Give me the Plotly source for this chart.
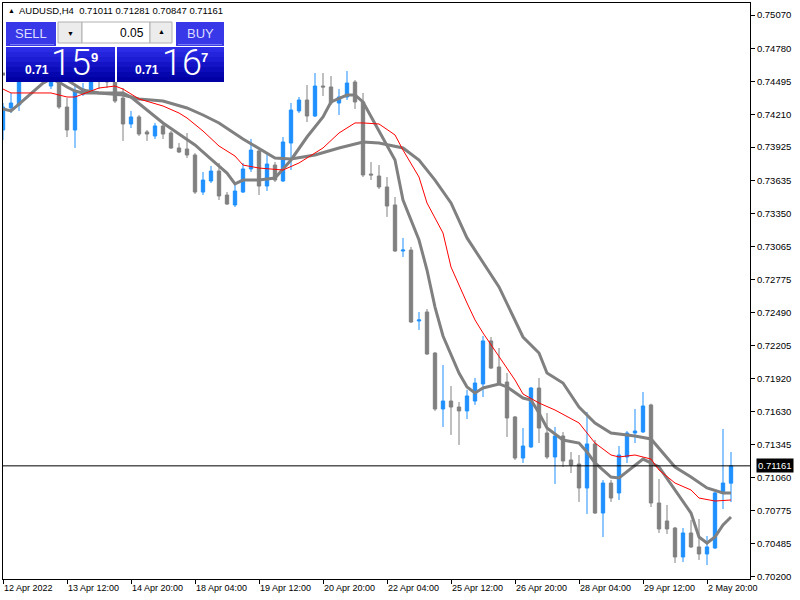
import plotly.graph_objects as go

# ---------------- data ----------------
tick_labels = ["12 Apr 2022", "13 Apr 12:00", "14 Apr 20:00", "18 Apr 04:00", "19 Apr 12:00",
               "20 Apr 20:00", "22 Apr 04:00", "25 Apr 12:00", "26 Apr 20:00", "28 Apr 04:00",
               "29 Apr 12:00", "2 May 20:00"]
tick_bars = [0, 8, 16, 24, 32, 40, 48, 56, 64, 72, 80, 88]

opens = [0.74073, 0.74264, 0.74290, 0.74524, 0.74576, 0.74558, 0.74454, 0.74532, 0.74272, 0.74073,
         0.74385, 0.74411, 0.74524, 0.74506, 0.74506, 0.74350, 0.74125, 0.74186, 0.74056, 0.74021,
         0.74108, 0.74047, 0.73917, 0.73908, 0.73856, 0.73535, 0.73631, 0.73717, 0.73509, 0.73423,
         0.73535, 0.73735, 0.73891, 0.73587, 0.73769, 0.73631, 0.73960, 0.74238, 0.74333, 0.74194,
         0.74454, 0.74446, 0.74307, 0.74359, 0.74489, 0.74316, 0.73691, 0.73674, 0.73579, 0.73423,
         0.73024, 0.73032, 0.72417, 0.72495, 0.72139, 0.71654, 0.71723, 0.71671, 0.71637, 0.71723,
         0.71871, 0.72244, 0.72018, 0.71888, 0.71585, 0.71229, 0.71325, 0.71836, 0.71446, 0.71238,
         0.71420, 0.71212, 0.71177, 0.70969, 0.71351, 0.70752, 0.71012, 0.70926, 0.71238, 0.71446,
         0.71455, 0.71689, 0.70839, 0.70683, 0.70622, 0.70371, 0.70579, 0.70458, 0.70397, 0.70449,
         0.70926, 0.71011]
highs = [0.74307, 0.74394, 0.74541, 0.74628, 0.74645, 0.74645, 0.74593, 0.74593, 0.74350, 0.74472,
         0.74480, 0.74558, 0.74576, 0.74558, 0.74541, 0.74437, 0.74238, 0.74203, 0.74073, 0.74134,
         0.74134, 0.74064, 0.73960, 0.74047, 0.73873, 0.73709, 0.73761, 0.73787, 0.73535, 0.73613,
         0.73787, 0.73995, 0.73899, 0.73873, 0.73795, 0.74012, 0.74307, 0.74359, 0.74463, 0.74567,
         0.74567, 0.74541, 0.74428, 0.74584, 0.74506, 0.74394, 0.73795, 0.73769, 0.73665, 0.73492,
         0.73137, 0.73059, 0.72495, 0.72521, 0.72148, 0.72035, 0.71853, 0.71715, 0.71819, 0.71923,
         0.72287, 0.72278, 0.72183, 0.71966, 0.71593, 0.71489, 0.71845, 0.71923, 0.71619, 0.71498,
         0.71455, 0.71281, 0.71255, 0.71628, 0.71385, 0.71038, 0.71038, 0.71333, 0.71463, 0.71654,
         0.71801, 0.71700, 0.71047, 0.70822, 0.70631, 0.70622, 0.70692, 0.70700, 0.70553, 0.70934,
         0.71481, 0.71281]
lows = [0.73986, 0.74220, 0.74238, 0.74515, 0.74515, 0.74510, 0.74428, 0.74255, 0.74012, 0.73917,
        0.74368, 0.74394, 0.74428, 0.74437, 0.74307, 0.73978, 0.74090, 0.74021, 0.73978, 0.73995,
        0.73995, 0.73908, 0.73873, 0.73830, 0.73518, 0.73509, 0.73613, 0.73466, 0.73423, 0.73405,
        0.73527, 0.73709, 0.73509, 0.73544, 0.73622, 0.73622, 0.73726, 0.74220, 0.74142, 0.74186,
        0.74368, 0.74290, 0.74203, 0.74333, 0.74255, 0.73665, 0.73639, 0.73561, 0.73319, 0.73015,
        0.72972, 0.72400, 0.72339, 0.72122, 0.71637, 0.71498, 0.71429, 0.71342, 0.71567, 0.71689,
        0.71758, 0.72001, 0.71862, 0.71411, 0.71212, 0.71186, 0.71316, 0.71359, 0.71220, 0.71004,
        0.71151, 0.71099, 0.70848, 0.70744, 0.70744, 0.70544, 0.70848, 0.70865, 0.71186, 0.71359,
        0.71446, 0.70804, 0.70579, 0.70570, 0.70319, 0.70327, 0.70449, 0.70345, 0.70301, 0.70440,
        0.70787, 0.70847]
closes = [0.74272, 0.74307, 0.74506, 0.74576, 0.74541, 0.74515, 0.74532, 0.74272, 0.74073, 0.74411,
          0.74428, 0.74524, 0.74506, 0.74489, 0.74324, 0.74125, 0.74186, 0.74038, 0.74038, 0.74108,
          0.74038, 0.73917, 0.73882, 0.73856, 0.73535, 0.73639, 0.73717, 0.73501, 0.73431, 0.73544,
          0.73735, 0.73899, 0.73587, 0.73778, 0.73639, 0.73969, 0.74246, 0.74333, 0.74194, 0.74454,
          0.74446, 0.74307, 0.74359, 0.74480, 0.74316, 0.73683, 0.73683, 0.73579, 0.73414, 0.73024,
          0.73032, 0.72408, 0.72426, 0.72131, 0.71654, 0.71723, 0.71671, 0.71637, 0.71767, 0.71879,
          0.72244, 0.72009, 0.71871, 0.71576, 0.71229, 0.71333, 0.71836, 0.71489, 0.71238, 0.71420,
          0.71203, 0.71168, 0.70969, 0.71351, 0.70752, 0.71012, 0.70882, 0.71255, 0.71446, 0.71463,
          0.71680, 0.70839, 0.70614, 0.70614, 0.70371, 0.70579, 0.70458, 0.70397, 0.70458, 0.70926,
          0.71012, 0.71161]

ma_fast_bars = [0, 1, 2, 3, 4, 5, 6, 7, 8, 9, 10, 11, 13, 15, 16, 18, 20, 22, 24, 26, 28, 29, 30,
                32, 34, 36, 38, 40, 41, 43, 44, 45, 47, 49, 50, 52, 53, 54, 55, 57, 58, 59, 60, 62,
                63, 65, 66, 67, 68, 70, 72, 73, 74, 76, 77, 79, 80, 82, 84, 86, 87, 88, 89, 90, 91]
ma_fast = [0.74255, 0.74238, 0.74298, 0.74359, 0.74420, 0.74480, 0.74515, 0.74489, 0.74446, 0.74411,
           0.74394, 0.74394, 0.74394, 0.74394, 0.74359, 0.74246, 0.74134, 0.74038, 0.73943, 0.73821,
           0.73700, 0.73605, 0.73639, 0.73639, 0.73657, 0.73813, 0.74012, 0.74186, 0.74316, 0.74376,
           0.74376, 0.74316, 0.74064, 0.73813, 0.73466, 0.73119, 0.72859, 0.72538, 0.72287, 0.71966,
           0.71845, 0.71793, 0.71836, 0.71871, 0.71845, 0.71749, 0.71732, 0.71619, 0.71489, 0.71385,
           0.71359, 0.71281, 0.71186, 0.71064, 0.71056, 0.71168, 0.71220, 0.71151, 0.70952, 0.70752,
           0.70544, 0.70492, 0.70544, 0.70648, 0.70718]

ma_slow_bars = [0, 5, 8, 10, 12, 15, 17, 20, 23, 25, 27, 30, 34, 36, 39, 42, 45, 47, 50, 52, 54, 56,
                58, 59, 62, 65, 67, 68, 70, 72, 74, 76, 79, 81, 82, 84, 86, 88, 90, 91]
ma_slow = [0.74558, 0.74541, 0.74506, 0.74420, 0.74394, 0.74376, 0.74342, 0.74324, 0.74264, 0.74203,
           0.74134, 0.73995, 0.73830, 0.73821, 0.73856, 0.73917, 0.73969, 0.73960, 0.73917, 0.73813,
           0.73639, 0.73440, 0.73137, 0.73032, 0.72712, 0.72278, 0.72139, 0.71966, 0.71879, 0.71671,
           0.71533, 0.71446, 0.71420, 0.71394, 0.71316, 0.71151, 0.71064, 0.70969, 0.70926, 0.70926]

ma_red_bars = [0, 1, 4, 6, 8, 9, 10, 12, 14, 15, 17, 20, 22, 23, 25, 27, 29, 30, 32, 35, 37, 40, 42,
               44, 45, 47, 49, 50, 52, 53, 55, 56, 58, 59, 60, 62, 64, 65, 67, 69, 72, 73, 74, 76,
               77, 79, 81, 82, 84, 86, 87, 89, 91]
ma_red = [0.74428, 0.74394, 0.74394, 0.74394, 0.74359, 0.74359, 0.74385, 0.74437, 0.74454, 0.74428,
          0.74342, 0.74281, 0.74220, 0.74177, 0.74064, 0.73934, 0.73847, 0.73769, 0.73743, 0.73726,
          0.73787, 0.73917, 0.74047, 0.74134, 0.74134, 0.74125, 0.74030, 0.73899, 0.73665, 0.73440,
          0.73180, 0.72885, 0.72573, 0.72426, 0.72313, 0.72105, 0.71905, 0.71784, 0.71706, 0.71645,
          0.71533, 0.71446, 0.71359, 0.71255, 0.71238, 0.71255, 0.71220, 0.71125, 0.71012, 0.70952,
          0.70882, 0.70856, 0.70865]

y_ticks = [0.75070, 0.74780, 0.74495, 0.74210, 0.73925, 0.73635, 0.73350, 0.73065, 0.72775,
           0.72490, 0.72205, 0.71920, 0.71630, 0.71345, 0.71060, 0.70775, 0.70485, 0.70200]

symbol = "AUDUSD,H4"
last_price = closes[-1]
lot = "0.05"

bars = list(range(len(opens)))

# ---------------- figure ----------------
fig = go.Figure()
fig.add_trace(go.Candlestick(
    x=bars, open=opens, high=highs, low=lows, close=closes,
    increasing=dict(line=dict(color="#1E90FF", width=1), fillcolor="#1E90FF"),
    decreasing=dict(line=dict(color="#808080", width=1), fillcolor="#808080"),
    whiskerwidth=0, showlegend=False, hoverinfo="skip"))
fig.add_trace(go.Scatter(x=ma_slow_bars, y=ma_slow, mode="lines",
                         line=dict(color="#808080", width=3), showlegend=False, hoverinfo="skip"))
fig.add_trace(go.Scatter(x=ma_fast_bars, y=ma_fast, mode="lines",
                         line=dict(color="#808080", width=3), showlegend=False, hoverinfo="skip"))
fig.add_trace(go.Scatter(x=ma_red_bars, y=ma_red, mode="lines",
                         line=dict(color="#FF0000", width=1), showlegend=False, hoverinfo="skip"))

L, R, T, B = 3, 50, 3, 21
W, H = 800, 600
PW, PH = W - L - R, H - T - B


def px(x):
    return (x - L) / PW


def py(y):
    return (H - B - y) / PH


shapes = []
annotations = []

# current price line
shapes.append(dict(type="line", xref="paper", yref="y", x0=0, x1=1, y0=last_price, y1=last_price,
                   line=dict(color="black", width=1), layer="above"))
annotations.append(dict(xref="paper", yref="y", x=px(756), y=last_price, xanchor="left",
                        yanchor="middle", text=f"{last_price:.5f}", showarrow=False,
                        font=dict(family="Liberation Sans", size=9.5, color="white"),
                        bgcolor="black", borderpad=1))


def rect(x0, y0, x1, y1, fill, line=None):
    shapes.append(dict(type="rect", xref="paper", yref="paper", x0=px(x0), x1=px(x1),
                       y0=py(y1), y1=py(y0), fillcolor=fill,
                       line=dict(width=1 if line else 0, color=line or fill), layer="above"))


def text(x, y, s, size, color="white", anchor="center", family="Liberation Sans", weight=None):
    f = dict(family=family, size=size, color=color)
    if weight:
        f["weight"] = weight
    annotations.append(dict(xref="paper", yref="paper", x=px(x), y=py(y), text=s, showarrow=False,
                            xanchor=anchor, yanchor="middle", font=f))


# trade panel background
rect(5, 21, 226, 82, "white")
# SELL / BUY buttons
rect(6, 22, 56, 46, "#3838e8")
rect(176, 22, 224, 46, "#3838e8")
rect(10, 44, 54, 45, "#7a7af4")
rect(178, 44, 222, 45, "#7a7af4")
# lot controls
rect(58, 22, 82, 43, "#ececec", "#b0b0b0")
rect(82, 22, 150, 43, "white", "#b0b0b0")
rect(150, 22, 172, 43, "#ececec", "#b0b0b0")
# price panels (gradient strips)
grad = ["#2c2ce6", "#2424dc", "#1c1cd2", "#1414c6", "#0c0cba", "#0606ae", "#0000a4"]
for i, c in enumerate(grad):
    y0 = 47 + i * 5
    rect(6, y0, 115, y0 + 5, c)
    rect(117, y0, 224, y0 + 5, c)

text(31, 34, "SELL", 13, "#dcdcff")
text(200, 34, "BUY", 13, "#dcdcff")
text(146, 33, lot, 12, "black", anchor="right")
text(70, 33, "▼", 7, "black")
text(161, 32, "▲", 7, "black")
text(37, 70, "<b>0.71</b>", 12)
text(71, 63, "15", 36, family="Roboto", weight=300)
text(94, 57, "<b>9</b>", 13)
text(147, 70, "<b>0.71</b>", 12)
text(182, 63, "16", 36, family="Roboto", weight=300)
text(205, 57, "<b>7</b>", 13)

# header
text(6, 10, "▲", 7, "black", anchor="left")
text(17, 10, f"{symbol}  0.71011 0.71281 0.70847 {last_price:.5f}", 9.5, "black", anchor="left")

fig.update_layout(
    width=W, height=H, margin=dict(l=L, r=R, t=T, b=B),
    paper_bgcolor="white", plot_bgcolor="white",
    shapes=shapes, annotations=annotations, boxgap=0.4,
    xaxis=dict(range=[0, PW / 8], showgrid=False, zeroline=False, showline=True, linecolor="black",
               linewidth=1, mirror=True, ticks="outside", ticklen=4, tickcolor="black",
               tickvals=tick_bars, ticktext=tick_labels, ticklabelposition="outside right",
               tickfont=dict(family="Liberation Sans", size=9, color="black"),
               rangeslider=dict(visible=False), fixedrange=True),
    yaxis=dict(range=[0.70180, 0.75174], side="right", showgrid=False, zeroline=False,
               showline=True, linecolor="black", linewidth=1, mirror=True, ticks="outside",
               ticklen=4, tickcolor="black", tickvals=y_ticks,
               ticktext=[f"{v:.5f}" for v in y_ticks],
               tickfont=dict(family="Liberation Sans", size=9.5, color="black"), fixedrange=True),
)

fig.write_html("out.html", config={"displayModeBar": False},
               post_script="document.body.style.margin='0';document.body.style.padding='0';")
